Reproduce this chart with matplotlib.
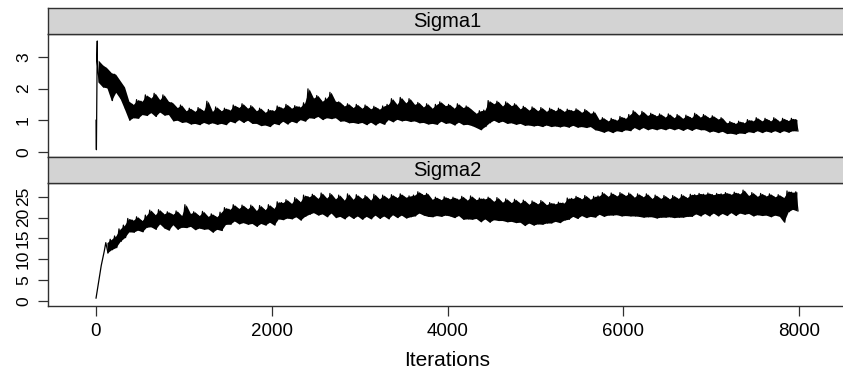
"""Trace plots of Sigma1 and Sigma2 over MCMC iterations."""
import matplotlib
matplotlib.use('Agg')
import matplotlib.pyplot as plt
import numpy as np

plt.rcParams['font.family'] = ['Liberation Sans', 'DejaVu Sans']

# First few draws, before the chain settles into a band
START1_ITER = [1, 5, 15]
START1_VAL = [1.0, 0.07, 3.5]
START2_ITER = [1, 30, 60, 95]
START2_VAL = [0.7, 4.5, 8.5, 12.0]

# Band: max / min of each 50-iteration bin
BIN1_FROM = 0
SIGMA1_HI = [
    2.9, 2.75, 2.65, 2.5, 2.45, 2.25, 2.05, 1.6, 1.5, 1.65,
    1.6, 1.8, 1.7, 1.85, 1.65, 1.8, 1.6, 1.55, 1.4, 1.48,
    1.3, 1.38, 1.28, 1.4, 1.3, 1.6, 1.28, 1.42, 1.3, 1.38,
    1.32, 1.48, 1.4, 1.52, 1.38, 1.46, 1.3, 1.38, 1.25, 1.34,
    1.3, 1.45, 1.38, 1.5, 1.38, 1.46, 1.42, 1.55, 1.99, 1.7,
    1.78, 1.6, 1.7, 1.88, 1.6, 1.58, 1.45, 1.52, 1.4, 1.5,
    1.38, 1.48, 1.36, 1.44, 1.35, 1.45, 1.5, 1.68, 1.5, 1.72,
    1.55, 1.68, 1.5, 1.56, 1.42, 1.52, 1.38, 1.5, 1.58, 1.46,
    1.5, 1.38, 1.52, 1.4, 1.45, 1.34, 1.22, 1.3, 1.32, 1.62,
    1.52, 1.6, 1.45, 1.58, 1.46, 1.52, 1.36, 1.44, 1.32, 1.42,
    1.3, 1.4, 1.28, 1.38, 1.3, 1.38, 1.28, 1.35, 1.3, 1.36,
    1.25, 1.34, 1.22, 1.26, 1.02, 1.08, 0.98, 1.06, 1.0, 1.12,
    1.06, 1.18, 1.3, 1.16, 1.28, 1.15, 1.22, 1.14, 1.2, 1.1,
    1.2, 1.08, 1.18, 1.06, 1.16, 1.08, 1.22, 1.1, 1.18, 1.08,
    1.14, 1.04, 1.08, 0.92, 0.96, 0.9, 0.97, 0.92, 1.02, 0.98,
    1.08, 0.98, 1.06, 0.98, 1.08, 0.97, 1.06, 0.99, 1.06, 1.02,
]
SIGMA1_LO = [
    2.2, 2.05, 2.02, 1.62, 1.88, 1.68, 1.35, 1.0, 1.08, 1.06,
    1.18, 1.15, 1.24, 1.12, 1.26, 1.16, 1.18, 0.98, 1.0, 0.93,
    0.95, 0.88, 0.9, 0.86, 0.93, 0.88, 0.92, 0.87, 0.9, 0.86,
    0.97, 0.92, 1.02, 0.93, 1.0, 0.9, 0.9, 0.83, 0.85, 0.8,
    0.9, 0.86, 0.97, 0.88, 0.97, 0.92, 1.02, 0.97, 1.08, 1.06,
    1.12, 1.02, 1.08, 1.05, 1.08, 0.97, 0.98, 0.92, 0.93, 0.9,
    0.93, 0.86, 0.94, 0.85, 0.93, 0.87, 1.02, 0.95, 1.03, 0.98,
    1.0, 0.96, 0.98, 0.92, 0.93, 0.88, 0.9, 0.87, 0.97, 0.9,
    0.92, 0.85, 0.94, 0.86, 0.87, 0.83, 0.77, 0.7, 0.8, 0.92,
    1.0, 0.93, 0.97, 0.9, 0.92, 0.87, 0.9, 0.84, 0.85, 0.82,
    0.84, 0.8, 0.85, 0.8, 0.82, 0.79, 0.82, 0.78, 0.84, 0.78,
    0.8, 0.77, 0.8, 0.7, 0.67, 0.62, 0.67, 0.61, 0.67, 0.64,
    0.7, 0.67, 0.77, 0.7, 0.77, 0.7, 0.74, 0.7, 0.74, 0.7,
    0.75, 0.7, 0.74, 0.68, 0.74, 0.68, 0.74, 0.7, 0.7, 0.63,
    0.66, 0.61, 0.65, 0.58, 0.59, 0.56, 0.6, 0.58, 0.64, 0.61,
    0.67, 0.61, 0.66, 0.62, 0.67, 0.61, 0.67, 0.62, 0.67, 0.66,
]

BIN2_FROM = 100
SIGMA2_HI = [
    14.0, 14.8, 15.6, 17.3, 18.2, 19.8, 19.4, 20.2, 19.3, 20.6,
    21.8, 20.7, 21.9, 20.9, 21.4, 20.8, 21.6, 20.5, 23.1, 21.0,
    21.4, 20.5, 21.5, 20.3, 20.9, 20.2, 21.3, 22.4, 22.0, 23.1,
    22.2, 23.0, 22.1, 23.0, 21.7, 22.9, 21.9, 23.1, 22.2, 23.8,
    23.6, 24.3, 23.4, 24.8, 23.8, 25.4, 25.0, 25.6, 24.6, 25.9,
    24.7, 25.8, 24.5, 25.4, 24.2, 25.7, 24.4, 25.5, 24.6, 25.3,
    24.2, 25.6, 24.5, 25.4, 24.6, 25.5, 24.8, 25.7, 24.9, 25.2,
    25.4, 26.2, 25.5, 25.8, 24.4, 24.9, 24.3, 25.0, 24.5, 24.9,
    24.4, 25.1, 24.2, 25.2, 24.3, 24.7, 24.5, 24.9, 23.9, 24.8,
    23.7, 24.5, 23.6, 24.4, 23.5, 24.2, 23.2, 24.0, 23.3, 24.1,
    23.1, 23.6, 23.3, 23.7, 23.5, 24.7, 24.6, 25.1, 24.5, 25.3,
    24.4, 25.1, 25.2, 26.0, 25.1, 25.9, 25.2, 26.0, 25.3, 25.9,
    24.9, 25.7, 25.0, 25.7, 24.6, 25.4, 24.6, 25.3, 24.5, 25.3,
    24.6, 25.5, 24.8, 25.6, 25.5, 25.8, 25.6, 25.9, 25.5, 25.8,
    25.7, 26.0, 25.6, 26.1, 25.7, 26.6, 25.3, 26.0, 25.1, 25.8,
    25.2, 25.7, 25.0, 25.5, 24.8, 26.4, 26.1, 26.2,
]
SIGMA2_LO = [
    11.5, 12.3, 12.8, 14.3, 15.2, 16.6, 16.5, 17.0, 16.6, 17.7,
    17.8, 17.2, 18.5, 17.5, 17.0, 18.3, 17.2, 17.7, 17.6, 17.9,
    17.1, 17.5, 17.2, 17.3, 16.5, 17.2, 16.9, 18.4, 18.4, 19.2,
    18.5, 18.8, 18.4, 18.6, 17.9, 18.6, 18.2, 18.9, 18.2, 19.7,
    19.5, 19.9, 19.7, 20.2, 19.4, 20.3, 20.8, 21.2, 20.6, 20.9,
    20.2, 21.1, 20.0, 20.3, 19.7, 20.5, 19.8, 20.4, 19.6, 20.3,
    19.7, 20.6, 19.8, 20.4, 19.7, 20.7, 20.0, 20.6, 19.9, 20.2,
    20.4, 21.1, 20.6, 20.3, 20.2, 20.5, 20.3, 20.6, 20.4, 20.0,
    20.5, 19.6, 19.7, 19.6, 19.8, 19.0, 19.7, 18.9, 19.5, 19.3,
    19.3, 19.0, 19.1, 18.8, 18.9, 18.1, 18.7, 18.2, 18.5, 18.4,
    18.7, 18.7, 19.1, 18.8, 19.4, 19.6, 20.3, 19.8, 20.5, 20.0,
    20.3, 20.1, 20.8, 20.3, 20.6, 20.6, 20.7, 20.4, 20.5, 20.4,
    20.4, 20.3, 20.1, 20.2, 20.2, 19.9, 20.1, 20.1, 20.2, 20.0,
    20.1, 20.1, 20.3, 20.3, 20.9, 20.4, 21.0, 20.4, 21.1, 20.4,
    21.0, 20.5, 21.2, 20.5, 21.1, 20.8, 21.0, 20.4, 20.7, 20.5,
    20.6, 20.2, 20.6, 20.3, 18.9, 21.4, 22.0, 21.6,
]

PANELS = ['Sigma1', 'Sigma2']
YTICKS = [[0, 1, 2, 3], [0, 5, 10, 15, 20, 25]]
YLIMS = [(-0.16, 3.72), (-1.2, 28.3)]
XTICKS = [0, 2000, 4000, 6000, 8000]
BIN = 50
EDGE = '#303030'


def trace(start_iter, start_val, first, hi, lo):
    # zigzag through the bin maxima and minima
    left = first + BIN * np.arange(len(hi))
    x = np.column_stack([left + 12, left + 37]).ravel()
    y = np.column_stack([hi, lo]).ravel()
    return left + 25, np.r_[start_iter, x], np.r_[start_val, y]


series = [
    trace(START1_ITER, START1_VAL, BIN1_FROM, SIGMA1_HI, SIGMA1_LO),
    trace(START2_ITER, START2_VAL, BIN2_FROM, SIGMA2_HI, SIGMA2_LO),
]
bands = [(SIGMA1_HI, SIGMA1_LO), (SIGMA2_HI, SIGMA2_LO)]

fig = plt.figure(figsize=(8.43, 3.87), dpi=100)
L, W = 0.0569, 0.948
panel_bottoms = [0.5943, 0.2093]
H, SH = 0.3178, 0.0672

for i, name in enumerate(PANELS):
    b = panel_bottoms[i]
    ax = fig.add_axes([L, b, W, H])
    mid, x, y = series[i]
    hi, lo = bands[i]
    ax.fill_between(mid, lo, hi, color='black', lw=0)
    ax.plot(x, y, color='black', lw=0.9)
    ax.set_xlim(-546, 8546)
    ax.set_ylim(*YLIMS[i])
    ax.set_yticks(YTICKS[i])
    ax.tick_params(axis='y', labelrotation=90, length=7.2, width=0.9,
                   pad=5, labelsize=12.5, color=EDGE)
    for lab in ax.get_yticklabels():
        lab.set_va('center')
    if i == 1:
        ax.set_xticks(XTICKS)
        ax.tick_params(axis='x', length=7.2, width=0.9, pad=5,
                       labelsize=13.5, color=EDGE)
        ax.set_xlabel('Iterations', fontsize=15, labelpad=8)
    else:
        ax.set_xticks([])
    for s in ax.spines.values():
        s.set_color(EDGE)
        s.set_linewidth(1.0)

    strip = fig.add_axes([L, b + H, W, SH])
    strip.set_facecolor('#d3d3d3')
    strip.set_xticks([])
    strip.set_yticks([])
    for s in strip.spines.values():
        s.set_color(EDGE)
        s.set_linewidth(1.0)
    strip.text(0.5, 0.47, name, transform=strip.transAxes,
               ha='center', va='center', fontsize=14.5)

fig.savefig('out.png', dpi=100)
